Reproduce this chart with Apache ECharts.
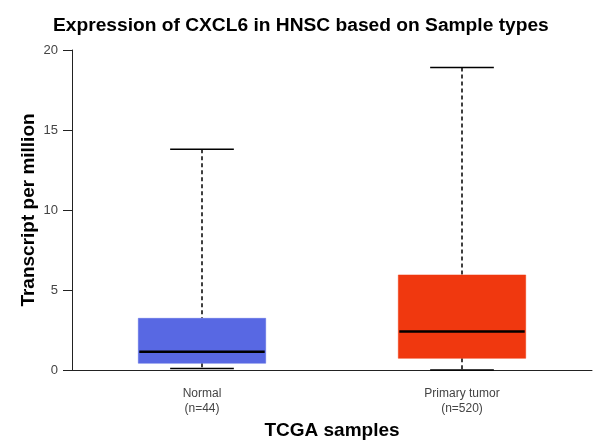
<!DOCTYPE html>
<html>
<head>
<meta charset="utf-8">
<script src="https://cdn.jsdelivr.net/npm/echarts@6/dist/echarts.min.js"></script>
<style>html,body{margin:0;padding:0;background:#fff;}#c{width:595px;height:440px;}</style>
</head>
<body>
<div id="c"></div>
<script>
var categories = ['Normal\n(n=44)', 'Primary tumor\n(n=520)'];
var minVals = [0.1, 0.0];
var q1Vals = [0.42, 0.73];
var medianVals = [1.14, 2.4];
var q3Vals = [3.23, 5.94];
var maxVals = [13.8, 18.9];
var boxColors = ['#5868E3', '#F0380F'];
var yTicks = [0, 5, 10, 15, 20];

var data = categories.map(function (c, i) {
  return [i, minVals[i], q1Vals[i], medianVals[i], q3Vals[i], maxVals[i]];
});

var chart = echarts.init(document.getElementById('c'));
chart.setOption({
  animation: false,
  title: {
    text: 'Expression of CXCL6 in HNSC based on Sample types',
    left: 53, top: 16, padding: 0,
    textStyle: { fontFamily: 'Liberation Sans', fontWeight: 'bold', fontSize: 19.2, color: '#000' }
  },
  grid: { left: 72, right: 3, top: 50, bottom: 70, outerBoundsMode: 'none', containLabel: false },
  xAxis: {
    type: 'category', data: categories,
    name: 'TCGA samples', nameLocation: 'middle', nameGap: 51,
    nameTextStyle: { fontFamily: 'Liberation Sans', fontWeight: 'bold', fontSize: 19, color: '#000' },
    axisLine: { lineStyle: { color: '#222', width: 1 } },
    axisTick: { show: false },
    axisLabel: { fontFamily: 'Liberation Sans', fontSize: 12, color: '#444', margin: 16, lineHeight: 15 }
  },
  yAxis: {
    type: 'value', min: 0, max: 20, interval: 5,
    name: 'Transcript per million', nameLocation: 'middle', nameGap: 34, nameMoveOverlap: false,
    nameTextStyle: { fontFamily: 'Liberation Sans', fontWeight: 'bold', fontSize: 19, color: '#000' },
    axisLine: { show: true, lineStyle: { color: '#222', width: 1 } },
    axisTick: { show: true, length: 9, lineStyle: { color: '#222' } },
    splitLine: { show: false },
    axisLabel: { fontFamily: 'Liberation Sans', fontSize: 13, color: '#444', margin: 14,
      formatter: function (v) { return yTicks.indexOf(v) >= 0 ? String(v) : ''; } }
  },
  series: [{
    type: 'custom',
    data: data,
    encode: { x: 0, y: [1, 2, 3, 4, 5] },
    renderItem: function (params, api) {
      var idx = api.value(0);
      var band = api.size([1, 0])[0];
      var boxW = band * 0.49;
      var capW = boxW * 0.5;
      var pMin = api.coord([idx, api.value(1)]);
      var pQ1 = api.coord([idx, api.value(2)]);
      var pMed = api.coord([idx, api.value(3)]);
      var pQ3 = api.coord([idx, api.value(4)]);
      var pMax = api.coord([idx, api.value(5)]);
      var cx = pMed[0];
      var dash = { stroke: '#000', lineWidth: 1.5, lineDash: [4, 3] };
      var solid = { stroke: '#000', lineWidth: 1.5 };
      return {
        type: 'group',
        children: [
          { type: 'line', shape: { x1: cx, y1: pMax[1], x2: cx, y2: pQ3[1] }, style: dash },
          { type: 'line', shape: { x1: cx, y1: pQ1[1], x2: cx, y2: pMin[1] }, style: dash },
          { type: 'line', shape: { x1: cx - capW / 2, y1: pMax[1], x2: cx + capW / 2, y2: pMax[1] }, style: solid },
          { type: 'line', shape: { x1: cx - capW / 2, y1: pMin[1], x2: cx + capW / 2, y2: pMin[1] }, style: solid },
          { type: 'rect', shape: { x: cx - boxW / 2, y: pQ3[1], width: boxW, height: pQ1[1] - pQ3[1] },
            style: { fill: boxColors[idx], stroke: boxColors[idx], lineWidth: 0.5 } },
          { type: 'line', shape: { x1: cx - boxW / 2 + 1, y1: pMed[1], x2: cx + boxW / 2 - 1, y2: pMed[1] },
            style: { stroke: '#000', lineWidth: 2.5 } }
        ]
      };
    }
  }]
});
</script>
</body>
</html>
